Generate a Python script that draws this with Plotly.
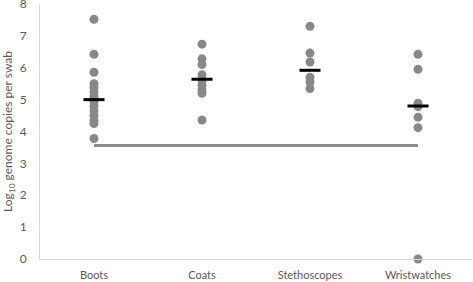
import plotly.graph_objects as go

categories = ["Boots", "Coats", "Stethoscopes", "Wristwatches"]
boots = [7.52, 6.42, 5.86, 5.5, 5.38, 5.25, 5.1, 4.95, 4.8, 4.65, 4.5, 4.35, 4.25, 3.78]
coats = [6.74, 6.28, 6.1, 5.78, 5.6, 5.45, 5.3, 5.2, 4.36]
stethoscopes = [7.30, 6.46, 6.18, 5.7, 5.55, 5.35]
wristwatches = [6.42, 5.95, 4.89, 4.78, 4.45, 4.12, 0.0]
means = [5.0, 5.64, 5.92, 4.8]
lod = 3.56
y_ticks = [0, 1, 2, 3, 4, 5, 6, 7, 8]

series = [boots, coats, stethoscopes, wristwatches]
fig = go.Figure()

# detection limit line
fig.add_trace(go.Scatter(x=[categories[0], categories[-1]], y=[lod, lod], mode="lines",
                         line=dict(color="#8c8c8c", width=3), showlegend=False, hoverinfo="skip"))

for cat, vals in zip(categories, series):
    fig.add_trace(go.Scatter(x=[cat] * len(vals), y=vals, mode="markers",
                             marker=dict(color="#888888", size=9, line=dict(width=0)),
                             showlegend=False, cliponaxis=False))

fig.add_trace(go.Scatter(x=categories, y=means, mode="markers",
                         marker=dict(symbol="line-ew", size=15, line=dict(color="black", width=3)),
                         showlegend=False, cliponaxis=False))

font = "Lato, 'Open Sans', sans-serif"
fig.update_layout(
    width=473, height=282,
    margin=dict(l=40, r=1, t=4, b=23),
    paper_bgcolor="white", plot_bgcolor="white",
    font=dict(family=font, size=11, color="#595959"),
    xaxis=dict(type="category", categoryorder="array", categoryarray=categories,
               range=[-0.5, 3.5], showgrid=False, zeroline=False, automargin=False,
               showline=True, linecolor="#d9d9d9", linewidth=1,
               ticks="outside", ticklen=6, tickcolor="rgba(0,0,0,0)",
               ticklabeloverflow="allow",
               tickfont=dict(size=11, color="#595959")),
    yaxis=dict(range=[0, 8], tickvals=y_ticks, showgrid=False, zeroline=False, automargin=False,
               showline=True, linecolor="#d9d9d9", linewidth=1,
               ticks="outside", ticklen=10, tickcolor="rgba(0,0,0,0)",
               ticklabeloverflow="allow",
               tickfont=dict(size=12, color="#595959"),
               title=dict(text="Log<sub>10</sub> genome copies per swab", standoff=4,
                          font=dict(size=12, color="#595959"))),
)

fig.write_html("out.html", config={"displayModeBar": False},
               post_script="document.body.style.margin='0';document.body.style.overflow='hidden';")
